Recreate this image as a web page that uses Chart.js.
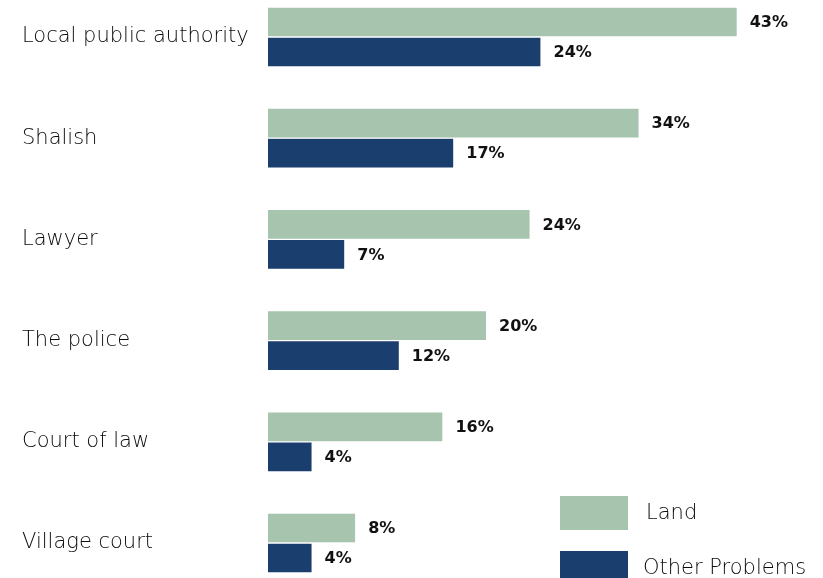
<!DOCTYPE html>
<html>
<head>
<meta charset="utf-8">
<script src="https://cdn.jsdelivr.net/npm/chart.js@4"></script>
<style>
  html, body { margin: 0; padding: 0; background: #ffffff; }
  #wrap { position: relative; width: 823px; height: 578px; }
</style>
</head>
<body>
<div id="wrap"><canvas id="chart" width="823" height="578"></canvas></div>
<script>
  // ---- Data ----
  const categories  = ["Local public authority", "Shalish", "Lawyer", "The police", "Court of law", "Village court"];
  const landValues  = [43, 34, 24, 20, 16, 8];
  const otherValues = [25, 17, 7, 12, 4, 4];
  const landLabels  = ["43%", "34%", "24%", "20%", "16%", "8%"];
  const otherLabels = ["24%", "17%", "7%", "12%", "4%", "4%"];
  const seriesNames  = ["Land", "Other Problems"];
  const seriesColors = ["#a7c4ae", "#1a3e6e"];

  const TEXT_FONT = "'DejaVu Sans', sans-serif";

  // value labels right of every bar
  const valueLabels = {
    id: "valueLabels",
    afterDatasetsDraw(chart) {
      const ctx = chart.ctx;
      const texts = [landLabels, otherLabels];
      ctx.save();
      ctx.font = "bold 16px " + TEXT_FONT;
      ctx.fillStyle = "#111111";
      ctx.textAlign = "left";
      ctx.textBaseline = "middle";
      chart.data.datasets.forEach((ds, di) => {
        chart.getDatasetMeta(di).data.forEach((bar, i) => {
          ctx.fillText(texts[di][i], bar.x + 13, bar.y + 1);
        });
      });
      ctx.restore();
    }
  };

  // legend with big swatches, bottom right
  const boxLegend = {
    id: "boxLegend",
    afterDraw(chart) {
      const ctx = chart.ctx;
      ctx.save();
      ctx.font = "300 21px " + TEXT_FONT;
      ctx.textAlign = "left";
      ctx.textBaseline = "middle";
      const rows = [{ y: 496, h: 34, tx: 646, ty: 514 }, { y: 551, h: 30, tx: 643, ty: 569 }];
      chart.data.datasets.forEach((ds, di) => {
        const r = rows[di];
        ctx.fillStyle = ds.backgroundColor;
        ctx.fillRect(560, r.y, 68, r.h);
        ctx.fillStyle = "#0a0a0a";
        ctx.fillText(ds.label, r.tx, r.ty);
      });
      ctx.restore();
    }
  };

  new Chart(document.getElementById("chart"), {
    type: "bar",
    data: {
      labels: categories,
      datasets: [
        { label: seriesNames[0], data: landValues,  backgroundColor: seriesColors[0] },
        { label: seriesNames[1], data: otherValues, backgroundColor: seriesColors[1] }
      ]
    },
    options: {
      indexAxis: "y",
      responsive: false,
      animation: false,
      clip: false,
      layout: { padding: { top: 37, bottom: 35, left: 22, right: 10 } },
      datasets: {
        bar: {
          barThickness: 30,
          borderWidth: { top: 1, bottom: 1, left: 0, right: 0 },
          borderColor: "#ffffff",
          borderSkipped: false
        }
      },
      plugins: {
        legend: { display: false },
        tooltip: { enabled: false }
      },
      scales: {
        x: { display: false, min: 0, max: 50 },
        y: {
          offset: false,
          grid: { display: false },
          border: { display: false },
          afterFit: s => { s.width = 246; },
          ticks: {
            crossAlign: "far",
            color: "#0a0a0a",
            padding: 0,
            labelOffset: 0,
            font: { family: TEXT_FONT, size: 21, weight: "300" }
          }
        }
      }
    },
    plugins: [valueLabels, boxLegend]
  });
</script>
</body>
</html>
